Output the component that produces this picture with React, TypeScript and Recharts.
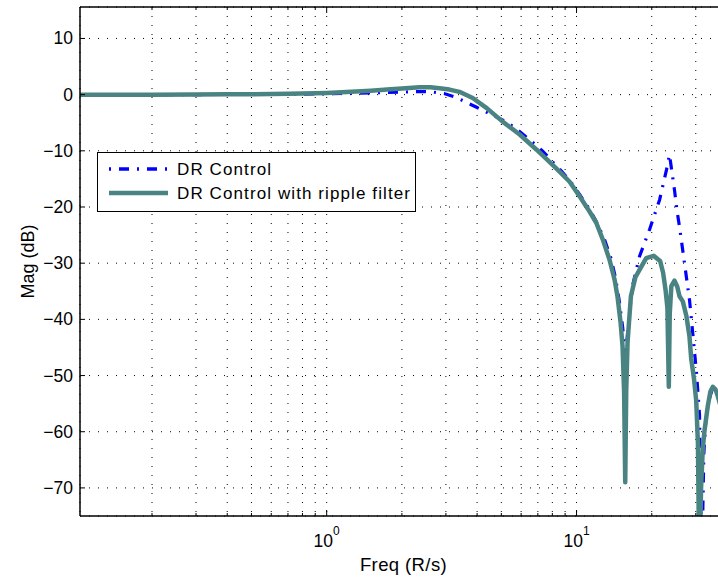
import React from 'react';
import { ComposedChart, Line, XAxis, YAxis, CartesianGrid, Legend } from 'recharts';

// Frequency (rad/s) and magnitude (dB) for "DR Control"
const freqDR = [
  0.103, 0.2, 0.4, 0.6, 0.8, 1.0, 1.3, 1.6, 2.0, 2.36, 2.6, 2.95, 3.3, 3.63, 4.0, 4.4, 4.8,
  5.3, 5.9, 6.6, 7.3, 8.0, 8.7, 9.5, 10.3, 11.3, 12.0, 12.9, 13.7, 14.3, 14.8, 15.3, 15.7,
  16.1, 16.75, 17.86, 19.6, 21.5, 22.9, 23.55, 24.66, 25.3, 25.82, 27.04, 28.31, 29.11,
  30.2, 31.05, 31.7, 32.3, 32.9, 33.8, 35.0, 36.0, 36.8, 38.0, 40.0,
];
const magDR = [
  0, 0, 0.03, 0.06, 0.1, 0.15, 0.25, 0.35, 0.45, 0.55, 0.5, 0.2, -0.5, -1.4, -2.3, -3.2, -4.0,
  -5.0, -6.5, -8.3, -10.0, -11.9, -13.6, -15.6, -17.8, -20.5, -22.6, -25.6, -29.0, -32.5, -36.5, -41.5, -47,
  -41, -34, -28.8, -24, -18.7, -13.4, -10.7, -17, -21, -23.5, -30, -36.5, -42,
  -49.5, -57, -85, -64, -58, -54.5, -52.3, -52.6, -53.6, -56, -60,
];

// Frequency (rad/s) and magnitude (dB) for "DR Control with ripple filter"
const freqFilter = [
  0.103, 0.15, 0.2, 0.3, 0.4, 0.5, 0.6, 0.7, 0.8, 1.0, 1.2, 1.5, 1.8, 2.0, 2.35, 2.6, 2.83,
  3.1, 3.4, 3.84, 4.37, 5.06, 5.92, 6.92, 8.02, 8.55, 9.38, 10.28, 11.27, 11.99, 12.74,
  13.55, 14.19, 14.59, 15.0, 15.28, 15.5, 15.66, 15.8, 16.0, 16.5, 17.2, 17.86, 19.0, 20.35,
  21.6, 22.2, 22.7, 23.1, 23.4, 23.6, 23.95, 24.66, 25.3, 25.82, 26.62, 27.54, 28.3, 28.76,
  29.5, 30.12, 30.6, 31.0, 31.5, 32.0, 32.51, 33.52, 34.3, 35.11, 36.0, 36.76, 38.0, 40.0,
];
const magFilter = [
  0, 0, 0, 0.02, 0.05, 0.08, 0.12, 0.16, 0.2, 0.3, 0.45, 0.7, 0.95, 1.1, 1.3, 1.3, 1.15,
  0.9, 0.5, -0.6, -2.4, -4.8, -7.1, -9.8, -12.5, -13.7, -15.5, -18.1, -20.8, -22.8, -25.8,
  -29.4, -32.9, -36, -40.5, -44.8, -53, -69, -53, -44, -35.9, -32.5, -31.2, -29.1, -28.7,
  -29.6, -31.7, -34.7, -38, -52, -39, -34.1, -33.1, -34.2, -35.9, -36.8, -39.5, -43, -47,
  -50.5, -54.5, -62, -85, -70, -63, -59.8, -55.4, -52.9, -52.0, -52.5, -53.7, -56, -60,
];

const xTicks = [0.2, 0.3, 0.4, 0.5, 0.6, 0.7, 0.8, 0.9, 1, 2, 3, 4, 5, 6, 7, 8, 9, 10, 20, 30];
const majorX = [1, 10];
const yTicks = [-70, -60, -50, -40, -30, -20, -10, 0, 10];

const drData = freqDR.map((f, i) => ({ f, mag: magDR[i] }));
const filterData = freqFilter.map((f, i) => ({ f, mag: magFilter[i] }));

const FONT = '"Liberation Sans", Arial, Helvetica, sans-serif';
const BLUE = '#0000ff';
const TEAL = '#4a8482';

const fmtY = (v: number) => (v < 0 ? '\u2212' + Math.abs(v) : String(v));

const BottomTick = (props: any) => {
  const { x, y, payload } = props;
  const v = payload.value;
  const major = majorX.includes(v);
  const exp = Math.round(Math.log10(v));
  return (
    <g>
      <line x1={x} x2={x} y1={y} y2={y - (major ? 6 : 3)} stroke="#000" strokeWidth={1} />
      {major && (
        <text x={x} y={y + 31} textAnchor="middle" fontFamily={FONT} fontSize={17.5} fill="#000">
          10
          <tspan dy={-12} fontSize={12}>{exp}</tspan>
        </text>
      )}
    </g>
  );
};

const TopTick = (props: any) => {
  const { x, y, payload } = props;
  const major = majorX.includes(payload.value);
  return <line x1={x} x2={x} y1={y} y2={y + (major ? 6 : 3)} stroke="#000" strokeWidth={1} />;
};

const LeftTick = (props: any) => {
  const { x, y, payload } = props;
  return (
    <g>
      <line x1={x} x2={x + 5} y1={y} y2={y} stroke="#000" strokeWidth={1} />
      <text x={x - 7} y={y} textAnchor="end" dominantBaseline="central" fontFamily={FONT} fontSize={17.5} fill="#000">
        {fmtY(payload.value)}
      </text>
    </g>
  );
};

const YLabel = (props: any) => {
  const vb = props.viewBox || { x: 20, y: 7, width: 60, height: 509 };
  const cx = vb.x + 8;
  const cy = vb.y + vb.height / 2;
  return (
    <text x={cx} y={cy} transform={`rotate(-90 ${cx} ${cy})`} textAnchor="middle" dominantBaseline="central" fontFamily={FONT} fontSize={18} fill="#000">
      Mag (dB)
    </text>
  );
};

const XLabel = (props: any) => {
  const vb = props.viewBox || { x: 80, y: 516, width: 647, height: 50 };
  const cx = vb.x + vb.width / 2;
  return (
    <text x={cx} y={vb.y + 48} textAnchor="middle" dominantBaseline="central" fontFamily={FONT} fontSize={18.5} letterSpacing={0.4} fill="#000">
      Freq (R/s)
    </text>
  );
};

const LegendBox = () => (
  <svg width={320} height={61} style={{ display: 'block' }}>
    <rect x={0.5} y={0.5} width={318} height={59} fill="#fff" stroke="#000" strokeWidth={1} />
    <line x1={12} x2={71} y1={17} y2={17} stroke={BLUE} strokeWidth={3.5} strokeDasharray="2 8 10 8" />
    <text x={80} y={17} dominantBaseline="central" fontFamily={FONT} fontSize={17} letterSpacing={1.1} fill="#000">
      DR Control
    </text>
    <line x1={12} x2={71} y1={41} y2={41} stroke={TEAL} strokeWidth={4.5} />
    <text x={80} y={41} dominantBaseline="central" fontFamily={FONT} fontSize={17} letterSpacing={1.1} fill="#000">
      DR Control with ripple filter
    </text>
  </svg>
);

export default function App() {
  return (
    <div style={{ position: 'absolute', left: 0, top: 0, width: 718, height: 580, overflow: 'hidden', background: '#fff' }}>
      <ComposedChart width={760} height={580} margin={{ top: 6, right: 33, bottom: 14, left: 20 }}>
        <CartesianGrid stroke="#000" strokeWidth={1} strokeDasharray="1 8" ticks={undefined} />
        <XAxis
          dataKey="f"
          type="number"
          scale="log"
          domain={[0.103, 40]}
          allowDataOverflow
          ticks={xTicks}
          interval={0}
          tickSize={0}
          tickMargin={0}
          tickLine={false}
          tick={<BottomTick />}
          height={50}
          axisLine={{ stroke: '#000', strokeWidth: 1.5 }}
          label={<XLabel />}
        />
        <XAxis
          xAxisId="top"
          orientation="top"
          dataKey="f"
          type="number"
          scale="log"
          domain={[0.103, 40]}
          allowDataOverflow
          ticks={xTicks}
          interval={0}
          tickSize={0}
          tickMargin={0}
          tickLine={false}
          tick={<TopTick />}
          height={1}
          axisLine={{ stroke: '#000', strokeWidth: 1.5 }}
        />
        <YAxis
          type="number"
          domain={[-75, 15.6]}
          allowDataOverflow
          ticks={yTicks}
          interval={0}
          tickSize={0}
          tickMargin={0}
          tickLine={false}
          tick={<LeftTick />}
          width={60}
          axisLine={{ stroke: '#000', strokeWidth: 1.5 }}
          label={<YLabel />}
        />
        <Legend
          layout="vertical"
          align="center"
          verticalAlign="middle"
          wrapperStyle={{ left: 97, top: 152, width: 320, height: 61 }}
          content={() => <LegendBox />}
        />
        <Line
          data={drData}
          dataKey="mag"
          type="linear"
          stroke={BLUE}
          strokeWidth={3.2}
          strokeDasharray="10 8 2 8"
          dot={false}
          activeDot={false}
          isAnimationActive={false}
          name="DR Control"
        />
        <Line
          data={filterData}
          dataKey="mag"
          type="linear"
          stroke={TEAL}
          strokeWidth={4.5}
          strokeLinejoin="round"
          strokeLinecap="round"
          dot={false}
          activeDot={false}
          isAnimationActive={false}
          name="DR Control with ripple filter"
        />
      </ComposedChart>
    </div>
  );
}
